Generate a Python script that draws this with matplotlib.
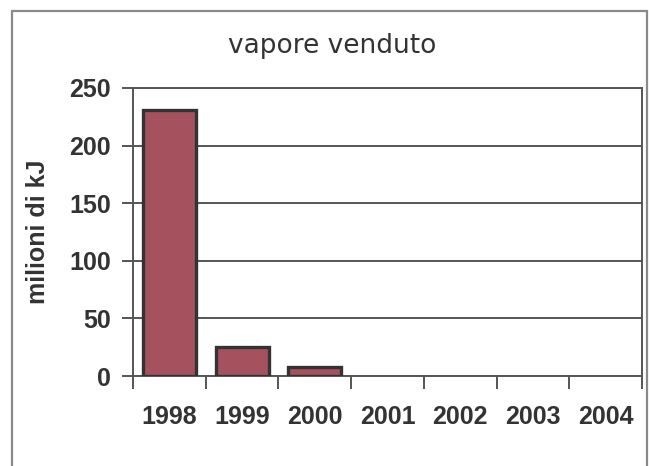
import matplotlib
matplotlib.use("Agg")
import matplotlib.pyplot as plt
from matplotlib.patches import Rectangle
import numpy as np

years = ["1998", "1999", "2000", "2001", "2002", "2003", "2004"]
values = [231, 25, 7.5, 0, 0, 0, 0]
yticks = [0, 50, 100, 150, 200, 250]

W, H = 649, 466
fig = plt.figure(figsize=(W / 100, H / 100), dpi=100)
fig.patch.set_facecolor("white")

# outer chart border
fig.patches.append(Rectangle((12 / W, -0.05), (647 - 12) / W, 1 - 11 / H + 0.05,
                             transform=fig.transFigure, fill=False,
                             edgecolor="#8a8a8a", linewidth=1.6))

ax = fig.add_axes([133 / W, 1 - 376 / H, (642 - 133) / W, (376 - 88) / H])
x = np.arange(len(years))
edge_widths = [2.4 if v > 0 else 0 for v in values]
ax.bar(x, values, width=0.73, color="#a5525e", edgecolor="#333333",
       linewidth=edge_widths, zorder=3)

ax.set_xlim(-0.5, len(years) - 0.5)
ax.set_ylim(0, 250)
ax.set_yticks(yticks)
ax.set_yticklabels([str(v) for v in yticks])
ax.yaxis.grid(True, color="#555555", linewidth=1.4, zorder=0)

ax.set_xticks(x)
ax.set_xticklabels(years)
ax.set_xticks(np.arange(-0.5, len(years), 1.0), minor=True)
ax.tick_params(axis="x", which="major", length=0, pad=21)
ax.tick_params(axis="x", which="minor", length=9, width=1.4, color="#555555",
               direction="out")
ax.tick_params(axis="y", length=8, width=1.4, color="#555555", pad=8)

for lab in ax.get_xticklabels() + ax.get_yticklabels():
    lab.set_fontfamily(["Liberation Sans", "DejaVu Sans"])
    lab.set_fontweight("bold")
    lab.set_fontsize(18)
    lab.set_color("#333333")

for sp in ax.spines.values():
    sp.set_color("#555555")
    sp.set_linewidth(1.4)

fig.text(332 / W, 1 - 46 / H, "vapore venduto", ha="center", va="center",
         fontsize=19, color="#333333", family=["DejaVu Sans"])
fig.text(38 / W, 1 - 232 / H, "milioni di kJ", rotation=90, ha="center",
         va="center", fontsize=18, fontweight="bold", color="#333333",
         family=["Liberation Sans", "DejaVu Sans"])

fig.savefig("out.png", dpi=100, facecolor="white")
